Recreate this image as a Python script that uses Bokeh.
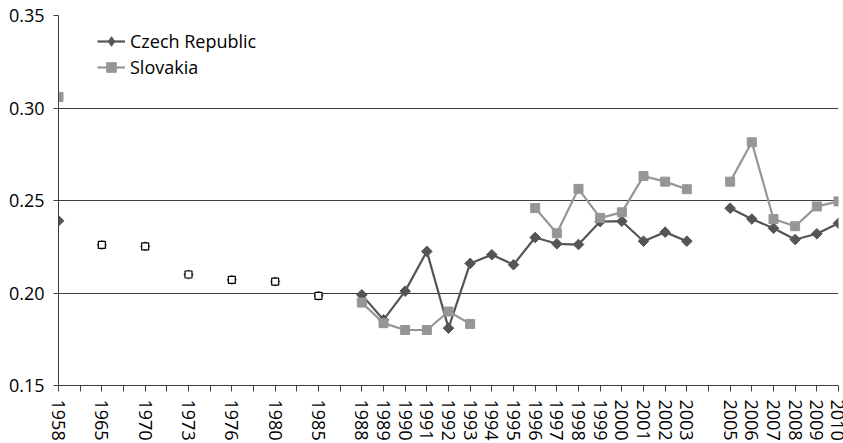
import numpy as np
from bokeh.plotting import figure
from bokeh.models import (ColumnDataSource, Range1d, FixedTicker, PrintfTickFormatter,
                          Legend, LegendItem)
from bokeh.embed import file_html
from bokeh.resources import INLINE

# Category labels ("" = unlabelled gap category)
years = ["1958", "", "1965", "", "1970", "", "1973", "", "1976", "", "1980", "", "1985", "",
         "1988", "1989", "1990", "1991", "1992", "1993", "1994", "1995", "1996", "1997",
         "1998", "1999", "2000", "2001", "2002", "2003", "", "2005", "2006", "2007",
         "2008", "2009", "2010"]

N = None
czech = [0.239, N, N, N, N, N, N, N, N, N, N, N, N, N,
         0.199, 0.1855, 0.201, 0.2225, 0.181, 0.216, 0.2207, 0.2153, 0.230, 0.2266,
         0.2262, 0.2386, 0.2388, 0.228, 0.2329, 0.228, N, 0.2458, 0.240, 0.235,
         0.2289, 0.232, 0.2377]

slovakia = [0.306, N, N, N, N, N, N, N, N, N, N, N, N, N,
            0.1948, 0.1837, 0.180, 0.180, 0.190, 0.1833, N, N, 0.2459, 0.2323,
            0.2563, 0.2406, 0.2436, 0.2632, 0.2602, 0.2561, N, 0.2602, 0.2815, 0.240,
            0.2361, 0.2468, 0.2495]

czechoslovakia = [N, N, 0.226, N, 0.2252, N, 0.210, N, 0.2071, N, 0.2062, N, 0.1985, N,
                  N, N, N, N, N, N, N, N, N, N, N, N, N, N, N, N, N, N, N, N, N, N, N]

y_ticks = [0.15, 0.20, 0.25, 0.30, 0.35]


def arr(v):
    return np.array([np.nan if a is None else a for a in v], dtype=float)


x = np.arange(len(years), dtype=float)
src = ColumnDataSource(dict(x=x, cz=arr(czech), sk=arr(slovakia), cs=arr(czechoslovakia),
                            none=np.full(len(years), np.nan)))

CZ = "#555555"
SK = "#969696"
GRID = "#3f3f3f"
FONT = "Open Sans"

p = figure(width=843, height=443, output_backend="svg", toolbar_location=None,
           x_range=Range1d(0, len(years) - 1), y_range=Range1d(0.15, 0.35),
           min_border_left=58, min_border_right=5, min_border_top=15, min_border_bottom=55)
p.outline_line_color = None
p.background_fill_color = "white"
p.border_fill_color = "white"

cz_line = p.line("x", "cz", source=src, line_color=CZ, line_width=2.2)
cz_pts = p.scatter("x", "cz", source=src, marker="square", angle=np.pi / 4, size=7.5,
                   fill_color=CZ, line_color=CZ)
# legend-only proxy marker (no data drawn) so the legend shows a diamond
cz_key = p.scatter("x", "none", source=src, marker="diamond", size=10,
                   fill_color=CZ, line_color=CZ)
sk_line = p.line("x", "sk", source=src, line_color=SK, line_width=2.2)
sk_pts = p.scatter("x", "sk", source=src, marker="square", size=9,
                   fill_color=SK, line_color=SK)
p.scatter("x", "cs", source=src, marker="square", angle=np.pi / 4, size=6.5,
          fill_color=CZ, line_color=CZ)
p.scatter("x", "cs", source=src, marker="square", size=7,
          fill_color="white", line_color="black", line_width=1.2)

# axes
p.xaxis.ticker = FixedTicker(ticks=list(range(len(years))))
p.xaxis.major_label_overrides = {i: lab for i, lab in enumerate(years)}
p.xaxis.major_label_orientation = "vertical"
p.yaxis.ticker = FixedTicker(ticks=y_ticks)
p.yaxis.formatter = PrintfTickFormatter(format="%.2f")
for ax in (p.xaxis[0], p.yaxis[0]):
    ax.axis_line_color = GRID
    ax.axis_line_width = 1
    ax.major_tick_line_color = GRID
    ax.major_tick_in = 0
    ax.minor_tick_line_color = None
    ax.major_label_text_font = FONT
    ax.major_label_text_font_size = "18px"
    ax.major_label_text_color = "black"
p.xaxis.major_tick_out = 6
p.xaxis.major_label_standoff = 8
p.yaxis.major_tick_out = 5
p.yaxis.major_label_standoff = 9

p.xgrid.grid_line_color = None
p.ygrid.ticker = FixedTicker(ticks=y_ticks)
p.ygrid.grid_line_color = GRID
p.ygrid.grid_line_width = 1

legend = Legend(items=[LegendItem(label="Czech Republic", renderers=[cz_line, cz_key]),
                       LegendItem(label="Slovakia", renderers=[sk_line, sk_pts])],
                location=(39, 306), glyph_width=28, glyph_height=24, label_height=24,
                spacing=2, padding=0, margin=0, border_line_color=None,
                background_fill_alpha=0, label_text_font=FONT,
                label_text_font_size="18px", label_standoff=5, label_text_color="black")
p.add_layout(legend)

open("out.html", "w").write(file_html(p, INLINE))
